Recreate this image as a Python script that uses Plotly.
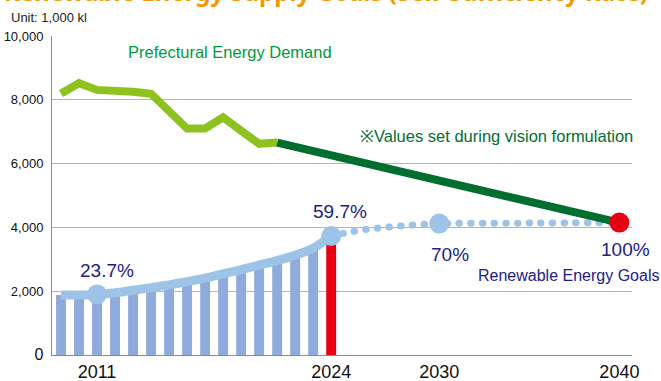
import plotly.graph_objects as go

# Renewable energy supply (1,000 kl), actual results FY2009-FY2024
supply_years = list(range(2009, 2025))
supply_values = [1880, 1880, 1900, 1950, 2030, 2110, 2200, 2300, 2410,
                 2540, 2680, 2820, 2960, 3130, 3350, 3730]

# Goal path after 2024
goal_years = [2024, 2025, 2026, 2027, 2028, 2029, 2030, 2035, 2040]
goal_values = [3730, 3850, 3940, 4000, 4050, 4090, 4120, 4135, 4150]

# Milestones with their renewable share labels
milestone_years = [2011, 2024, 2030]
milestone_values = [1900, 3730, 4120]
milestone_labels = ["23.7%", "59.7%", "70%"]
final_year = 2040
final_value = 4150
final_label = "100%"

# Prefectural energy demand (1,000 kl)
demand_years = [2009, 2010, 2011, 2012, 2013, 2014, 2015, 2016, 2017,
                2018, 2019, 2020, 2021]
demand_values = [8200, 8520, 8310, 8310, 8250, 8190, 7650, 7100, 7100,
                 7450, 7030, 6620, 6660]
vision_years = [2021, 2040]
vision_values = [6660, 4150]

x_ticks = [2011, 2024, 2030, 2040]
y_ticks = [0, 2000, 4000, 6000, 8000, 10000]
y_tick_text = ['<span style="font-size:16px">0</span>', "2,000", "4,000",
               "6,000", "8,000", "10,000"]

BAR_BLUE = "#8FAADC"
CURVE_BLUE = "#9DC3E6"
RED = "#E60012"
LIGHT_GREEN = "#8DC21F"
DARK_GREEN = "#006E2E"
NAVY = "#1D2088"
FONT = "Liberation Sans, Arial, sans-serif"

bar_colors = [BAR_BLUE] * (len(supply_years) - 1) + [RED]

fig = go.Figure()

fig.add_trace(go.Bar(
    x=supply_years, y=supply_values, width=0.55,
    marker=dict(color=bar_colors, line=dict(width=0)),
    hoverinfo="skip",
))

# dotted goal path (round dots applied after render)
fig.add_trace(go.Scatter(
    x=goal_years, y=goal_values, mode="lines",
    line=dict(color=CURVE_BLUE, width=7, shape="spline", dash="0.5px,11.2px"),
    hoverinfo="skip",
))

# solid supply curve
fig.add_trace(go.Scatter(
    x=supply_years, y=supply_values, mode="lines",
    line=dict(color=CURVE_BLUE, width=9, shape="spline", smoothing=0.8),
    hoverinfo="skip",
))

fig.add_trace(go.Scatter(
    x=milestone_years, y=milestone_values, mode="markers",
    marker=dict(color=CURVE_BLUE, size=20, line=dict(width=0)),
    hoverinfo="skip",
))

fig.add_trace(go.Scatter(
    x=demand_years, y=demand_values, mode="lines",
    line=dict(color=LIGHT_GREEN, width=8),
    hoverinfo="skip",
))

fig.add_trace(go.Scatter(
    x=vision_years, y=vision_values, mode="lines",
    line=dict(color=DARK_GREEN, width=8),
    hoverinfo="skip",
))

fig.add_trace(go.Scatter(
    x=[final_year], y=[final_value], mode="markers",
    marker=dict(color=RED, size=20, line=dict(width=0)),
    hoverinfo="skip",
))

annotations = []

def px_to_paper_x(px):
    return (px - 52) / 580.0

def px_to_paper_y(py):
    return (355 - py) / 319.0

def add_text(text, px, py, size, color, anchor="center"):
    annotations.append(dict(
        text=text, x=px_to_paper_x(px), y=px_to_paper_y(py),
        xref="paper", yref="paper", xanchor=anchor, yanchor="middle",
        showarrow=False, font=dict(family=FONT, size=size, color=color),
    ))

# percentage labels
label_pos = [(107, 270), (340, 211), (450, 255)]
for label, (px, py) in zip(milestone_labels, label_pos):
    add_text(label, px, py, 19, NAVY)
add_text(final_label, 625, 250, 19, NAVY)

add_text("Renewable Energy Goals", 661, 275, 16, NAVY, anchor="right")
add_text("Prefectural Energy Demand", 126, 52, 16.5, "#009A3E", anchor="left")
add_text("※Values set during vision formulation", 358, 136, 16.5, DARK_GREEN,
         anchor="left")
add_text("Unit: 1,000 kl", 9, 17, 13, "#222222", anchor="left")

# chart heading, running off the top edge
annotations.append(dict(
    text="<b>Renewable Energy Supply Goals (Self-Sufficiency Rate)</b>",
    x=px_to_paper_x(2), y=px_to_paper_y(-8), xref="paper", yref="paper",
    xanchor="left", yanchor="middle", showarrow=False,
    font=dict(family="Noto Sans, sans-serif", size=24, color="#F39800"),
))

fig.update_layout(
    width=661, height=381,
    margin=dict(l=52, r=29, t=36, b=26),
    paper_bgcolor="white", plot_bgcolor="white",
    showlegend=False, barmode="overlay",
    font=dict(family=FONT, color="#111111"),
    annotations=annotations,
    xaxis=dict(
        range=[2008.5, 2040.7], tickvals=x_ticks,
        ticktext=[str(t) for t in x_ticks],
        showgrid=False, zeroline=False, showline=True,
        linecolor="#8a8a8a", linewidth=1, ticks="",
        tickfont=dict(family=FONT, size=18, color="#111111"),
        automargin=False, fixedrange=True,
    ),
    yaxis=dict(
        range=[0, 10000], tickvals=y_ticks, ticktext=y_tick_text,
        showgrid=True, gridcolor="#b5b5b5", gridwidth=1,
        zeroline=False, showline=True, linecolor="#8a8a8a", linewidth=1,
        ticks="", ticklabelstandoff=5,
        tickfont=dict(family=FONT, size=13, color="#111111"),
        automargin=False, fixedrange=True,
    ),
)

round_dots = """
var gd = document.getElementById('{plot_id}');
function roundDots() {
  document.querySelectorAll('path.js-line').forEach(function (p) {
    if ((p.style.strokeDasharray || '').indexOf('11.2') >= 0) {
      p.style.strokeLinecap = 'round';
    }
  });
}
roundDots();
setTimeout(roundDots, 0);
if (gd && gd.on) { gd.on('plotly_afterplot', roundDots); }
"""

fig.write_html("out.html", post_script=round_dots,
               config={"displayModeBar": False, "staticPlot": True})
